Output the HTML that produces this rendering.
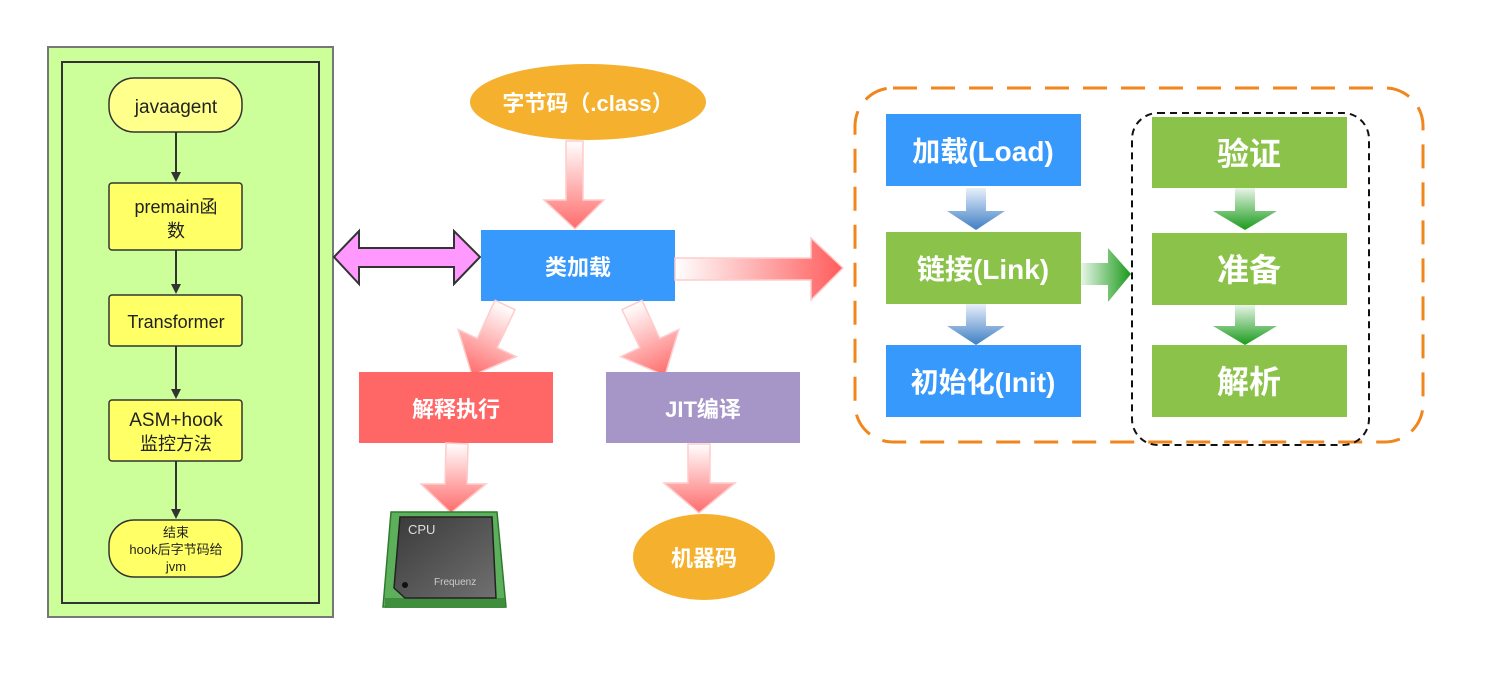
<!DOCTYPE html>
<html><head><meta charset="utf-8"><style>
html,body{margin:0;padding:0;background:#fff;}
svg{display:block;font-family:"Liberation Sans","Noto Sans CJK SC",sans-serif;}
</style></head><body>
<svg width="1487" height="690" viewBox="0 0 1487 690" xmlns="http://www.w3.org/2000/svg">
<defs>
<linearGradient id="rv" x1="0" y1="0" x2="0" y2="1"><stop offset="0" stop-color="#fff"/><stop offset="1" stop-color="#ff6b6b"/></linearGradient>
<linearGradient id="rh" x1="0" y1="0" x2="1" y2="0"><stop offset="0" stop-color="#fff"/><stop offset="1" stop-color="#ff5c5c"/></linearGradient>
<linearGradient id="bv" x1="0" y1="0" x2="0" y2="1"><stop offset="0" stop-color="#e8f0fa"/><stop offset="1" stop-color="#3f7ec4"/></linearGradient>
<linearGradient id="gv" x1="0" y1="0" x2="0" y2="1"><stop offset="0" stop-color="#e8f5e8"/><stop offset="1" stop-color="#1a9a1a"/></linearGradient>
<linearGradient id="gh" x1="0" y1="0" x2="1" y2="0"><stop offset="0" stop-color="#e8f5e8"/><stop offset="1" stop-color="#1a9a1a"/></linearGradient>
<linearGradient id="chip" x1="0" y1="0" x2="1" y2="1"><stop offset="0" stop-color="#3a3a3a"/><stop offset="1" stop-color="#707070"/></linearGradient>
<marker id="ah" markerWidth="10" markerHeight="10" refX="8" refY="5" orient="auto" markerUnits="userSpaceOnUse"><path d="M0,0 L10,5 L0,10 Z" fill="#333"/></marker>
</defs>

<rect x="48" y="47" width="285" height="570" fill="#ccff99" stroke="#777" stroke-width="2"/>
<rect x="62" y="62" width="257" height="541" fill="none" stroke="#333" stroke-width="2"/>
<g stroke="#333" stroke-width="2">
<line x1="176" y1="132" x2="176" y2="180" marker-end="url(#ah)"/>
<line x1="176" y1="250" x2="176" y2="292" marker-end="url(#ah)"/>
<line x1="176" y1="346" x2="176" y2="397" marker-end="url(#ah)"/>
<line x1="176" y1="461" x2="176" y2="517" marker-end="url(#ah)"/>
</g>
<rect x="109" y="78" width="133" height="54" rx="25" fill="#ffff8c" stroke="#333" stroke-width="1.5"/>
<rect x="109" y="183" width="133" height="67" rx="3" fill="#ffff66" stroke="#333" stroke-width="1.5"/>
<rect x="109" y="295" width="133" height="51" rx="3" fill="#ffff66" stroke="#333" stroke-width="1.5"/>
<rect x="109" y="400" width="133" height="61" rx="3" fill="#ffff66" stroke="#333" stroke-width="1.5"/>
<rect x="109" y="520" width="133" height="57" rx="25" fill="#ffff66" stroke="#333" stroke-width="1.5"/>
<g fill="#222" text-anchor="middle">
<text x="176" y="113" font-size="19">javaagent</text>
<text x="176" y="213" font-size="18">premain函</text>
<text x="176" y="237" font-size="18">数</text>
<text x="176" y="328" font-size="18">Transformer</text>
<text x="176" y="426" font-size="19">ASM+hook</text>
<text x="176" y="450" font-size="18">监控方法</text>
<text x="176" y="537" font-size="13">结束</text>
<text x="176" y="554" font-size="13">hook后字节码给</text>
<text x="176" y="571" font-size="13">jvm</text>
</g>

<polygon points="334,257 359,231 359,248 454,248 454,231 480,257 454,284 454,267 359,267 359,284" fill="#ff99ff" stroke="#333" stroke-width="2"/>

<ellipse cx="588" cy="102" rx="118" ry="38" fill="#f5b12e"/>
<text x="588" y="111" font-size="22" font-weight="bold" fill="#fff" text-anchor="middle">字节码（.class）</text>
<polygon points="566,141 583,141 583,200 604,200 575,229 544,200 566,200" fill="url(#rv)" stroke="#ffcccc" stroke-width="1.5"/>

<rect x="481" y="230" width="194" height="71" fill="#3799fc"/>
<text x="578" y="275" font-size="22" font-weight="bold" fill="#fff" text-anchor="middle">类加载</text>

<polygon points="675,258 811,258 811,238 843,268 811,300 811,280 675,280" fill="url(#rh)" stroke="#ffcccc" stroke-width="1.5"/>

<g transform="translate(505,305) rotate(25)"><polygon points="-11,0 11,0 11,42 32,42 0,78 -32,42 -11,42" fill="url(#rv)" stroke="#ffcccc" stroke-width="1.5"/></g>
<g transform="translate(632,305) rotate(-25)"><polygon points="-11,0 11,0 11,42 32,42 0,78 -32,42 -11,42" fill="url(#rv)" stroke="#ffcccc" stroke-width="1.5"/></g>

<rect x="359" y="372" width="194" height="71" fill="#ff6666"/>
<text x="456" y="417" font-size="22" font-weight="bold" fill="#fff" text-anchor="middle">解释执行</text>
<rect x="606" y="372" width="194" height="71" fill="#a695c7"/>
<text x="703" y="417" font-size="22" font-weight="bold" fill="#fff" text-anchor="middle">JIT编译</text>

<polygon points="446,443 468,444 467,484 486,484 451,513 421,484 445,484" fill="url(#rv)" stroke="#ffcccc" stroke-width="1.5"/>
<polygon points="688,444 710,444 710,483 735,483 699,513 664,483 688,483" fill="url(#rv)" stroke="#ffcccc" stroke-width="1.5"/>

<ellipse cx="704" cy="557" rx="71" ry="43" fill="#f5b12e"/>
<text x="704" y="566" font-size="22" font-weight="bold" fill="#fff" text-anchor="middle">机器码</text>

<polygon points="391,512 497,512 506,607 383,607" fill="#5cb05c" stroke="#2f7a2f" stroke-width="1.5"/>
<rect x="385" y="598" width="120" height="10" fill="#3e8e3e"/>
<polygon points="400,517 492,517 496,598 405,598 394,588" fill="url(#chip)" stroke="#222" stroke-width="1.5"/>
<text x="408" y="534" font-size="13" fill="#ddd">CPU</text>
<text x="434" y="585" font-size="10" fill="#ccc">Frequenz</text>
<circle cx="405" cy="585" r="3" fill="#111"/>

<rect x="855" y="88" width="568" height="354" rx="38" fill="none" stroke="#f0861c" stroke-width="3" stroke-dasharray="24,14"/>
<rect x="1132" y="113" width="237" height="332" rx="26" fill="none" stroke="#111" stroke-width="2" stroke-dasharray="7,5"/>

<rect x="886" y="114" width="195" height="72" fill="#3799fc"/>
<rect x="886" y="232" width="195" height="72" fill="#8bc34a"/>
<rect x="886" y="345" width="195" height="72" fill="#3799fc"/>
<g font-size="28" font-weight="bold" fill="#fff" text-anchor="middle">
<text x="983" y="161">加载(Load)</text>
<text x="983" y="279">链接(Link)</text>
<text x="983" y="392">初始化(Init)</text>
</g>
<polygon points="966,188 986,188 986,211 1005,211 976,230 947,211 966,211" fill="url(#bv)"/>
<polygon points="966,304 986,304 986,326 1005,326 976,345 947,326 966,326" fill="url(#bv)"/>

<polygon points="1081,263 1108,263 1108,248 1131,274 1108,302 1108,285 1081,285" fill="url(#gh)"/>

<rect x="1152" y="117" width="195" height="71" fill="#8bc34a"/>
<rect x="1152" y="233" width="195" height="72" fill="#8bc34a"/>
<rect x="1152" y="345" width="195" height="72" fill="#8bc34a"/>
<g font-size="32" font-weight="bold" fill="#fff" text-anchor="middle">
<text x="1249" y="165">验证</text>
<text x="1249" y="281">准备</text>
<text x="1249" y="393">解析</text>
</g>
<polygon points="1235,188 1255,188 1255,211 1277,211 1245,230 1213,211 1235,211" fill="url(#gv)"/>
<polygon points="1235,305 1255,305 1255,326 1277,326 1245,345 1213,326 1235,326" fill="url(#gv)"/>
</svg>
</body></html>
